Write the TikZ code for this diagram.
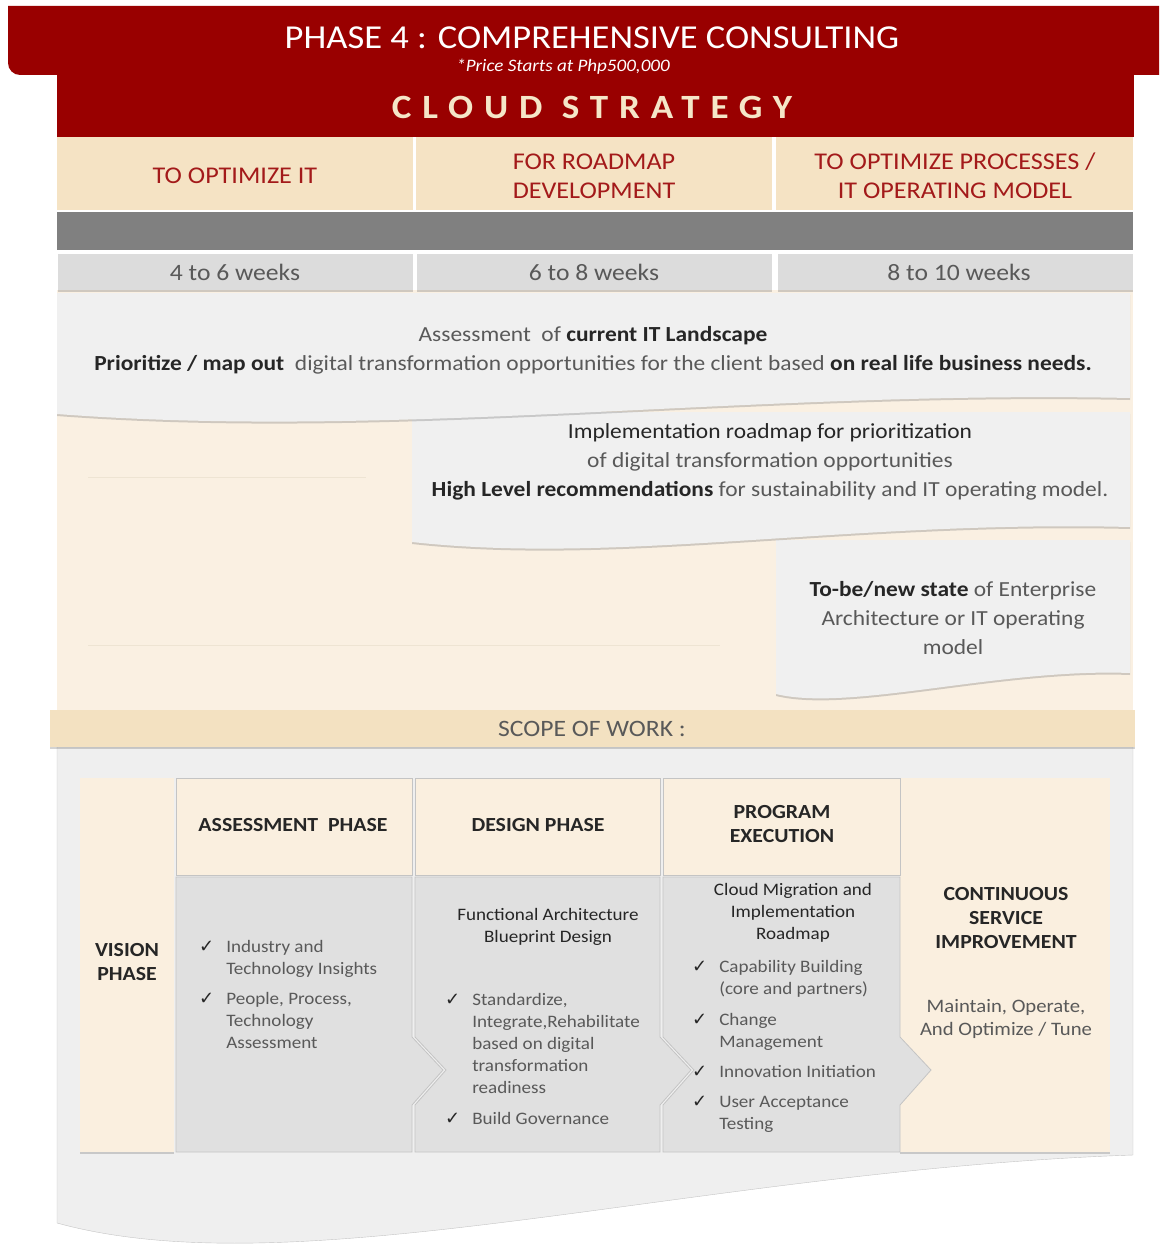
\documentclass[tikz,border=0pt]{standalone}
\usepackage{fontspec}
\setmainfont{Carlito}[FakeStretch=1.09]
\newfontfamily\hakenfont{DejaVu Sans}
\usetikzlibrary{shadows}

\definecolor{dunkelrot}{HTML}{990000}
\definecolor{schriftrot}{HTML}{A31A1A}
\definecolor{kopfcreme}{HTML}{F5E3C4}
\definecolor{flaeche}{HTML}{FAF0E2}
\definecolor{balken}{HTML}{808080}
\definecolor{wochengrau}{HTML}{DCDCDC}
\definecolor{wellgrau}{HTML}{F0F0F0}
\definecolor{scopecreme}{HTML}{F3E1C1}
\definecolor{untengrau}{HTML}{EFEFEF}
\definecolor{zellgrau}{HTML}{E0E0E0}
\definecolor{zellcreme}{HTML}{FAEFDF}
\definecolor{textgrau}{HTML}{595959}
\definecolor{textdunkel}{HTML}{262626}
\definecolor{rand}{HTML}{C4C4C4}
\definecolor{cremelinie}{HTML}{EEE4D3}
\definecolor{schriftcreme}{HTML}{F5E6C8}

\newcommand{\haken}{{\hakenfont\fontsize{18}{18}\selectfont\color{textdunkel}✓}}
\newcommand{\fett}[1]{\textcolor{textdunkel}{\textbf{#1}}}

\begin{document}
\begin{tikzpicture}[x=1pt, y=-1pt,
  schatten/.style={drop shadow={shadow xshift=0pt, shadow yshift=-2pt, opacity=.35}},
  kopf/.style={text=schriftrot, align=center, font=\fontsize{24}{29}\selectfont},
  woche/.style={text=textgrau, font=\fontsize{23.5}{28}\selectfont},
  fliess/.style={text=textgrau, align=center, font=\fontsize{21.5}{29}\selectfont},
  phase/.style={text=textdunkel, align=center, font=\bfseries\fontsize{20}{24}\selectfont},
  klein/.style={text=textgrau, align=center, font=\fontsize{17.5}{22}\selectfont},
  punkte/.style={text=textgrau, anchor=base west, inner sep=0pt, font=\fontsize{17.5}{22}\selectfont},
  zelle/.style={fill=zellgrau, draw=rand, line width=.8pt}]
\useasboundingbox (0,0) rectangle (1159,1249);

%Banner
\fill[dunkelrot] (8,6) [rounded corners=12pt] -- (8,75) [sharp corners] -- (1159,75) -- (1159,6) -- cycle;
\fill[dunkelrot] (57,74) rectangle (1134,137);
\node[text=white, font=\fontsize{33.5}{36}\selectfont] (titel) at (592,38) {PHASE 4 : COMPREHENSIVE CONSULTING};
\node[text=white, font=\itshape\fontsize{17.5}{20}\selectfont] (preis) at (563,67) {*Price Starts at Php500,000};
\node[text=schriftcreme, font=\bfseries\fontsize{34}{36}\selectfont\addfontfeatures{LetterSpace=32}] (cloud) at (592,107) {CLOUD STRATEGY};

%Kopfzeile
\fill[flaeche] (57,290) rectangle (1133,712);
\fill[kopfcreme] (57,137) rectangle (413,210);
\fill[kopfcreme] (416,137) rectangle (772,210);
\fill[kopfcreme] (776,137) rectangle (1133,210);
\node[kopf] (ziel1) at (235,176) {TO OPTIMIZE IT};
\node[kopf] (ziel2) at (594,176) {FOR ROADMAP\\DEVELOPMENT};
\node[kopf] (ziel3) at (955,176) {TO OPTIMIZE PROCESSES /\\IT OPERATING MODEL};
\fill[balken] (57,212) rectangle (1133,250);

%Wochen
\fill[wochengrau, schatten] (58,254) rectangle (413,290);
\fill[wochengrau, schatten] (417,254) rectangle (772,290);
\fill[wochengrau, schatten] (778,254) rectangle (1133,290);
\node[woche] (w1) at (235,272) {4 to 6 weeks};
\node[woche] (w2) at (594,272) {6 to 8 weeks};
\node[woche] (w3) at (959,272) {8 to 10 weeks};

%Wellen
\draw[cremelinie] (88,477) -- (366,477);
\draw[cremelinie] (88,645) -- (720,645);
\fill[wellgrau, schatten] (776,540) -- (1130,540) -- (1130,673) .. controls (1000,668) and (850,712) .. (776,694) -- cycle;
\fill[wellgrau, schatten] (412,412) -- (1130,412) -- (1130,527) .. controls (850,520) and (620,565) .. (412,542) -- cycle;
\fill[wellgrau, schatten] (57,293) -- (1130,293) -- (1130,398) .. controls (750,390) and (400,440) .. (57,414) -- cycle;
\node[fliess] (bestand) at (593,350) {Assessment\ \ of \fett{current IT Landscape}\\
  \fett{Prioritize / map out}\ \ digital transformation opportunities for the client based \fett{on real life business needs.}};
\node[fliess] (roadmap) at (770,462) {\textcolor{textdunkel}{Implementation roadmap for prioritization}\\
  of digital transformation opportunities\\
  \fett{High Level recommendations} for sustainability and IT operating model.};
\node[fliess] (zielbild) at (953,618) {\fett{To-be/new state} of Enterprise\\Architecture or IT operating\\model};

%Scope
\fill[untengrau, draw=rand] (57,747) -- (1133,747) -- (1133,1155) .. controls (700,1170) and (300,1290) .. (57,1223) -- cycle;
\fill[scopecreme, schatten] (50,710) rectangle (1135,747);
\node[woche] (scope) at (592,729) {SCOPE OF WORK :};

%Tabelle
\fill[zellcreme, schatten] (80,778) rectangle (174,1152);
\fill[zellcreme, schatten] (900,778) rectangle (1110,1152);
\fill[zellcreme, draw=rand] (176,778) rectangle (412,875);
\fill[zellcreme, draw=rand] (415,778) rectangle (660,875);
\fill[zellcreme, draw=rand] (663,778) rectangle (900,875);
\draw[zelle] (176,877) -- (412,877) -- (412,1037) -- (443,1070) -- (412,1105) -- (412,1152) -- (176,1152) -- cycle;
\draw[zelle] (415,877) -- (660,877) -- (660,1037) -- (691,1070) -- (660,1105) -- (660,1152) -- (415,1152) -- (415,1105) -- (446,1070) -- (415,1037) -- cycle;
\draw[zelle] (663,877) -- (900,877) -- (900,1037) -- (931,1070) -- (900,1105) -- (900,1152) -- (663,1152) -- (663,1105) -- (694,1070) -- (663,1037) -- cycle;

\node[phase] (vision) at (127,962) {VISION\\PHASE};
\node[phase] (assess) at (293,825) {ASSESSMENT\ \ PHASE};
\node[phase] (design) at (538,825) {DESIGN PHASE};
\node[phase] (program) at (782,824) {PROGRAM\\EXECUTION};
\node[phase] (csi) at (1006,918) {CONTINUOUS\\SERVICE\\IMPROVEMENT};
\node[klein, font=\fontsize{19}{23}\selectfont] (pflege) at (1006,1019) {Maintain, Operate,\\And Optimize / Tune};

\node[klein] (blueprint) at (548,927) {\textcolor{textdunkel}{Functional Architecture}\\\textcolor{textdunkel}{Blueprint Design}};
\node[klein] (migration) at (793,913) {\textcolor{textdunkel}{Cloud Migration and}\\\textcolor{textdunkel}{Implementation}\\\textcolor{textdunkel}{Roadmap}};

\node[punkte] (aliste) at (199,952) {\begin{tabular}[t]{@{}l@{\hspace{12pt}}l@{}}
  \haken & Industry and\\ & Technology Insights\\[8pt]
  \haken & People, Process,\\ & Technology\\ & Assessment\end{tabular}};
\node[punkte] (dliste) at (445,1005) {\begin{tabular}[t]{@{}l@{\hspace{12pt}}l@{}}
  \haken & Standardize,\\ & Integrate,Rehabilitate\\ & based on digital\\ & transformation\\ & readiness\\[9pt]
  \haken & Build Governance\end{tabular}};
\node[punkte] (pliste) at (692,972) {\begin{tabular}[t]{@{}l@{\hspace{12pt}}l@{}}
  \haken & Capability Building\\ & (core and partners)\\[9pt]
  \haken & Change\\ & Management\\[8pt]
  \haken & Innovation Initiation\\[8pt]
  \haken & User Acceptance\\ & Testing\end{tabular}};
\end{tikzpicture}
\end{document}
